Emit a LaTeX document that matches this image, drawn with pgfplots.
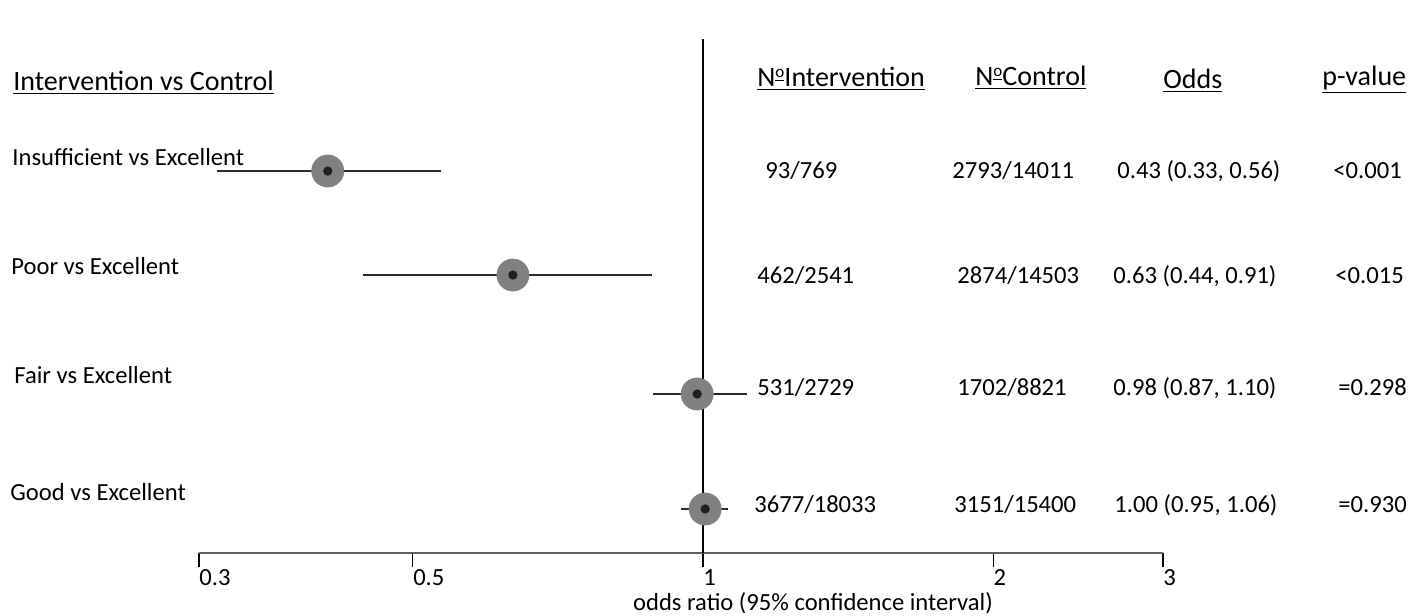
\documentclass[border=0pt]{standalone}
\usepackage{pgfplots}
\pgfplotsset{compat=1.18}
\usepackage{fontspec}
\setmainfont{Carlito}
\definecolor{dotgray}{HTML}{808080}
\definecolor{linegray}{HTML}{2A2A2A}
\newcommand{\hd}{\fontsize{14}{16}\selectfont}
\newcommand{\tx}{\fontsize{12.3}{14}\selectfont}
\newcommand{\No}{N\raisebox{0.62ex}{\fontsize{8.5}{9}\selectfont\underline{o}}}
\begin{document}
\begin{tikzpicture}[x=0.5pt,y=-0.5pt]
\useasboundingbox (0,0) rectangle (1426,616);
\begin{axis}[at={(99.5pt,-276.5pt)}, anchor=south west, scale only axis,
  width=482pt, height=258.5pt,
  xmode=log, xmin=0.3, xmax=3, ymin=63, ymax=580,
  axis x line*=bottom, axis y line=none,
  x axis line style={-, draw=gray!75!black, line width=0.7pt},
  xtick={0.3,0.5,1,2,3}, xticklabels={0.3,0.5,1,2,3}, xminorticks=false,
  tick align=outside, major tick length=7pt, xtick style={black, line width=0.6pt},
  xticklabel style={anchor=north west, inner xsep=0pt, inner ysep=1pt, font=\tx},
  /pgf/number format/assume math mode=true,
  clip=false]
% reference line at OR = 1
\addplot[black, line width=0.6pt] coordinates {(1,63) (1,577)};
% CI lines drawn under the markers
\addplot[linegray, line width=0.7pt] coordinates {(0.444,341) (0.885,341)};
\addplot[linegray, line width=0.7pt] coordinates {(0.887,222) (1.111,222)};
% point estimates
\addplot[only marks, mark=*, mark size=8pt, mark options={fill=dotgray, draw=dotgray}]
  coordinates {(0.408,445) (0.635,341) (0.986,222) (1.005,107)};
% CI lines drawn over the markers
\addplot[linegray, line width=0.7pt] coordinates {(0.313,445) (0.535,445)};
\addplot[linegray, line width=0.8pt] coordinates {(0.949,107) (1.062,107)};
\addplot[only marks, mark=*, mark size=2.1pt, mark options={fill=black!88, draw=black!88}]
  coordinates {(0.408,445) (0.635,341) (0.986,222) (1.005,107)};
\end{axis}
% headers
\node[anchor=base west, inner sep=0pt, font=\hd] at (13,90) {\underline{Intervention vs Control}};
\node[anchor=base west, inner sep=0pt, font=\hd] at (757,86) {\underline{\No Intervention}};
\node[anchor=base west, inner sep=0pt, font=\hd] at (975,85) {\underline{\No Control}};
\node[anchor=base west, inner sep=0pt, font=\hd] at (1163,88) {\underline{Odds}};
\node[anchor=base west, inner sep=0pt, font=\hd] at (1322,85) {\underline{p-value}};
% row labels
\node[anchor=base west, inner sep=0pt, font=\tx] at (12,165) {Insufficient vs Excellent};
\node[anchor=base west, inner sep=0pt, font=\tx] at (11,274) {Poor vs Excellent};
\node[anchor=base west, inner sep=0pt, font=\tx] at (14,383) {Fair vs Excellent};
\node[anchor=base west, inner sep=0pt, font=\tx] at (10,500) {Good vs Excellent};
% table values
\node[anchor=base west, inner sep=0pt, font=\tx] at (765,178) {93/769};
\node[anchor=base west, inner sep=0pt, font=\tx] at (952,178) {2793/14011};
\node[anchor=base west, inner sep=0pt, font=\tx] at (1117,178) {0.43 (0.33, 0.56)};
\node[anchor=base west, inner sep=0pt, font=\tx] at (1333,178) {<0.001};
\node[anchor=base west, inner sep=0pt, font=\tx] at (757,283) {462/2541};
\node[anchor=base west, inner sep=0pt, font=\tx] at (957,283) {2874/14503};
\node[anchor=base west, inner sep=0pt, font=\tx] at (1113,283) {0.63 (0.44, 0.91)};
\node[anchor=base west, inner sep=0pt, font=\tx] at (1335,283) {<0.015};
\node[anchor=base west, inner sep=0pt, font=\tx] at (757,395) {531/2729};
\node[anchor=base west, inner sep=0pt, font=\tx] at (957,395) {1702/8821};
\node[anchor=base west, inner sep=0pt, font=\tx] at (1113,395) {0.98 (0.87, 1.10)};
\node[anchor=base west, inner sep=0pt, font=\tx] at (1338,395) {=0.298};
\node[anchor=base west, inner sep=0pt, font=\tx] at (754,512) {3677/18033};
\node[anchor=base west, inner sep=0pt, font=\tx] at (954,512) {3151/15400};
\node[anchor=base west, inner sep=0pt, font=\tx] at (1114,512) {1.00 (0.95, 1.06)};
\node[anchor=base west, inner sep=0pt, font=\tx] at (1338,512) {=0.930};
% x label
\node[anchor=base, inner sep=0pt, font=\tx] at (813,610) {odds ratio (95\% confidence interval)};
\end{tikzpicture}
\end{document}
